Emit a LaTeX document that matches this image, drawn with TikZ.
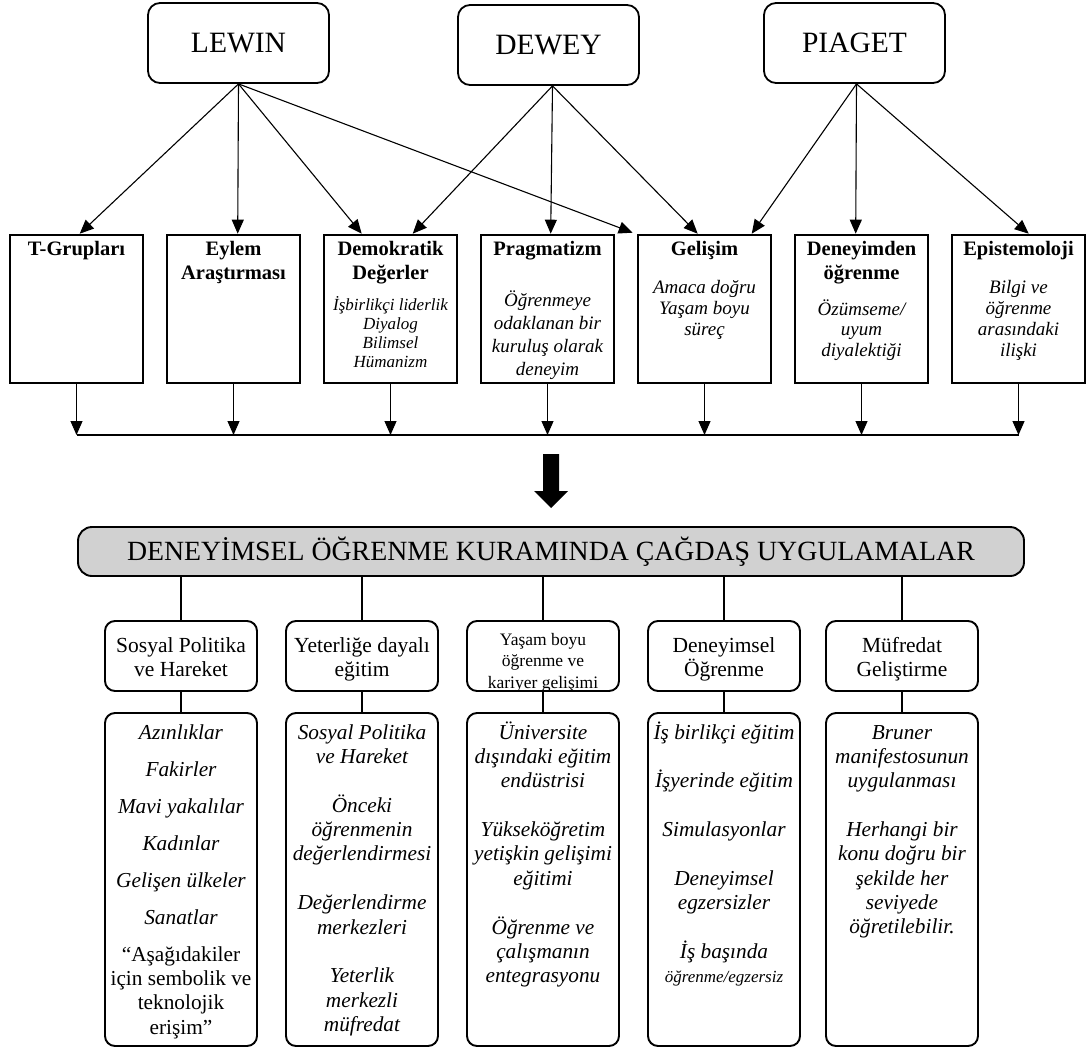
\documentclass[tikz,border=0pt]{standalone}
\usepackage{fontspec}
\setmainfont{Liberation Serif}
\usetikzlibrary{arrows.meta}
\definecolor{titlefill}{gray}{0.82}
% strut that fixes the height of a first line, so a node's top edge sits a known distance above its first baseline
\newcommand\lineup[1]{\rule{0pt}{#1}}

\begin{document}
\begin{tikzpicture}[x=1pt,y=-1pt,
  theorist/.style={draw, line width=1.8pt, rounded corners=12pt, minimum width=181pt,
    minimum height=80pt, inner sep=0pt, font=\fontsize{29.5}{32}\selectfont},
  rootbox/.style={draw, line width=2.6pt, minimum width=133pt, minimum height=148pt, inner sep=0pt},
  headtxt/.style={anchor=north, inner sep=0pt, align=center, font=\fontsize{20.5}{24}\selectfont\bfseries},
  bodytxt/.style={anchor=north, inner sep=0pt, align=center},
  catbox/.style={draw, line width=1.9pt, rounded corners=10pt, minimum width=152pt,
    minimum height=70pt, inner sep=0pt},
  detbox/.style={draw, line width=1.9pt, rounded corners=10pt, minimum width=152pt,
    minimum height=333pt, inner sep=0pt},
  cattxt/.style={anchor=north, inner sep=0pt, align=center, font=\fontsize{21.5}{24}\selectfont},
  dettxt/.style={anchor=north, inner sep=0pt, align=center, font=\fontsize{21.3}{24.3}\selectfont\itshape},
  titlebox/.style={draw, line width=1.9pt, rounded corners=14pt, fill=titlefill,
    minimum width=946pt, minimum height=49pt, inner sep=0pt, font=\fontsize{27.8}{32}\selectfont},
  arr/.style={line width=1.1pt, -{Triangle[length=14pt,width=12pt]}},
  conn/.style={line width=1.1pt}
]
\useasboundingbox (0,0) rectangle (1086,1052);

% the three theorists
\node[theorist] (lewin)  at (238.5,43) {LEWIN};
\node[theorist] (dewey)  at (548.5,45) {DEWEY};
\node[theorist] (piaget) at (854.5,43) {PIAGET};

% the seven roots of the theory
\node[rootbox] (m1) at (76.5,309) {};
\node[rootbox] (m2) at (233.5,309) {};
\node[rootbox] (m3) at (390.5,309) {};
\node[rootbox] (m4) at (547.5,309) {};
\node[rootbox] (m5) at (704.5,309) {};
\node[rootbox] (m6) at (861.5,309) {};
\node[rootbox] (m7) at (1018.5,309) {};

\node[headtxt] (h1) at (76.5,238)  {\lineup{17pt}T-Grupları};
\node[headtxt] (h2) at (233.5,238) {\lineup{17pt}Eylem\\Araştırması};
\node[headtxt] (h3) at (390.5,238) {\lineup{17pt}Demokratik\\Değerler};
\node[headtxt] (h4) at (547.5,238) {\lineup{17pt}Pragmatizm};
\node[headtxt] (h5) at (704.5,238) {\lineup{17pt}Gelişim};
\node[headtxt] (h6) at (861.5,238) {\lineup{17pt}Deneyimden\\öğrenme};
\node[headtxt] (h7) at (1018.5,238) {\lineup{17pt}Epistemoloji};

\node[bodytxt, font=\fontsize{17}{19}\selectfont\itshape] (b3) at (390.5,294)
  {\lineup{16pt}İşbirlikçi liderlik\\Diyalog\\Bilimsel\\Hümanizm};
\node[bodytxt, font=\fontsize{19}{23}\selectfont\itshape] (b4) at (547.5,288)
  {\lineup{18pt}Öğrenmeye\\odaklanan bir\\kuruluş olarak\\deneyim};
\node[bodytxt, font=\fontsize{19}{21}\selectfont\itshape] (b5) at (704.5,275)
  {\lineup{18pt}Amaca doğru\\Yaşam boyu\\süreç};
\node[bodytxt, font=\fontsize{19}{20.5}\selectfont\itshape] (b6) at (861.5,297)
  {\lineup{18pt}Özümseme/\\uyum\\diyalektiği};
\node[bodytxt, font=\fontsize{19}{21}\selectfont\itshape] (b7) at (1018.5,275)
  {\lineup{18pt}Bilgi ve\\öğrenme\\arasındaki\\ilişki};

% influences
\draw[arr] (lewin.south) -- ([xshift=71pt]m1.north west);
\draw[arr] (lewin.south) -- ([xshift=72pt]m2.north west);
\draw[arr] (lewin.south) -- ([xshift=39pt]m3.north west);
\draw[arr] (lewin.south) -- ([xshift=-4pt,yshift=1pt]m5.north west);
\draw[arr] ([xshift=4pt]dewey.south) -- ([xshift=90pt]m3.north west);
\draw[arr] ([xshift=4pt]dewey.south) -- ([xshift=71pt]m4.north west);
\draw[arr] ([xshift=4pt]dewey.south) -- ([xshift=61pt]m5.north west);
\draw[arr] ([xshift=2pt]piaget.south) -- ([xshift=115pt]m5.north west);
\draw[arr] ([xshift=2pt]piaget.south) -- ([xshift=62pt]m6.north west);
\draw[arr] ([xshift=2pt]piaget.south) -- ([xshift=78pt]m7.north west);

% collecting line
\coordinate (bus) at (0,435);
\foreach \i in {1,...,7}{
  \draw[arr] (m\i.south) -- (m\i.south |- bus);
}
\draw[conn] (m1.south |- bus) -- (m7.south |- bus);

% block arrow towards the applications
\fill (543,454) -- (559,454) -- (559,491) -- (568,491) -- (551,508) -- (534,491) -- (543,491) -- cycle;

% applications
\node[titlebox] (title) at (551,551.5) {DENEYİMSEL ÖĞRENME KURAMINDA ÇAĞDAŞ UYGULAMALAR};

\node[catbox] (c1) at (181,656) {};
\node[catbox] (c2) at (362,656) {};
\node[catbox] (c3) at (543,656) {};
\node[catbox] (c4) at (724,656) {};
\node[catbox] (c5) at (902,656) {};

\node[cattxt] (k1) at (181,632) {\lineup{20pt}Sosyal Politika\\ve Hareket};
\node[cattxt] (k2) at (362,632) {\lineup{20pt}Yeterliğe dayalı\\eğitim};
\begin{scope}
  \clip (c3.south west) rectangle (c3.north east);
  \node[cattxt, font=\fontsize{17.5}{21.5}\selectfont] (k3) at (543,629)
    {\lineup{16pt}Yaşam boyu\\öğrenme ve\\kariyer gelişimi};
\end{scope}
\node[cattxt] (k4) at (724,632) {\lineup{20pt}Deneyimsel\\Öğrenme};
\node[cattxt] (k5) at (902,632) {\lineup{20pt}Müfredat\\Geliştirme};

\node[detbox] (d1) at (181,879.5) {};
\node[detbox] (d2) at (362,879.5) {};
\node[detbox] (d3) at (543,879.5) {};
\node[detbox] (d4) at (724,879.5) {};
\node[detbox] (d5) at (902,879.5) {};

\foreach \i in {1,...,5}{
  \draw[conn] (title.south -| c\i.north) -- (c\i.north);
  \draw[conn] (c\i.south) -- (d\i.north);
}

\node[dettxt] (e1) at (181,719) {\lineup{20pt}Azınlıklar\\[12.7pt]Fakirler\\[12.7pt]Mavi yakalılar\\[12.7pt]Kadınlar\\[12.7pt]Gelişen ülkeler\\[12.7pt]Sanatlar\\[12.7pt]\upshape “Aşağıdakiler\\\upshape için sembolik ve\\\upshape teknolojik\\\upshape erişim”};
\node[dettxt] (e2) at (362,719) {\lineup{20pt}Sosyal Politika\\ve Hareket\\[24.5pt]Önceki\\öğrenmenin\\değerlendirmesi\\[24.5pt]Değerlendirme\\merkezleri\\[24.5pt]Yeterlik\\merkezli\\müfredat};
\node[dettxt] (e3) at (543,719) {\lineup{20pt}Üniversite\\dışındaki eğitim\\endüstrisi\\[24.5pt]Yükseköğretim\\yetişkin gelişimi\\eğitimi\\[24.5pt]Öğrenme ve\\çalışmanın\\entegrasyonu};
\node[dettxt] (e4) at (724,719) {\lineup{20pt}İş birlikçi eğitim\\[24pt]İşyerinde eğitim\\[24.5pt]Simulasyonlar\\[24.5pt]Deneyimsel\\egzersizler\\[24.5pt]İş başında\\\fontsize{17}{23}\selectfont öğrenme/egzersiz};
\node[dettxt] (e5) at (902,719) {\lineup{20pt}Bruner\\manifestosunun\\uygulanması\\[24.5pt]Herhangi bir\\konu doğru bir\\şekilde her\\seviyede\\öğretilebilir.};

\end{tikzpicture}
\end{document}
